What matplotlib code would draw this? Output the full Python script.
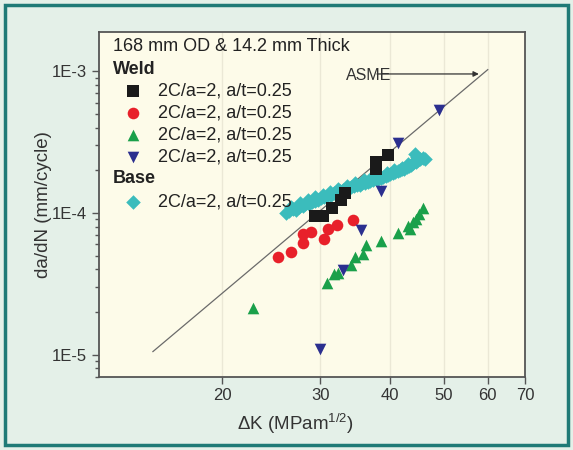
import math
import matplotlib
matplotlib.use("Agg")
import matplotlib.pyplot as plt
from matplotlib.patches import Rectangle
from matplotlib.ticker import FixedLocator, FuncFormatter, NullFormatter, NullLocator

plt.rcParams['font.family'] = ['Liberation Sans', 'DejaVu Sans']
plt.rcParams['mathtext.fontset'] = 'custom'
plt.rcParams['mathtext.rm'] = 'Liberation Sans'

# Weld specimens, dK in MPa m^1/2, da/dN in mm/cycle
weld1_dk = [29.4, 30.3, 31.5, 32.7, 33.2, 37.8, 37.8, 39.7]
weld1_rate = [9.6e-5, 9.6e-5, 1.08e-4, 1.23e-4, 1.38e-4, 2.06e-4, 2.29e-4, 2.58e-4]

weld2_dk = [25.2, 26.6, 27.9, 27.9, 28.9, 30.5, 31.0, 32.2, 34.3]
weld2_rate = [4.9e-5, 5.3e-5, 6.1e-5, 7.1e-5, 7.3e-5, 6.6e-5, 7.7e-5, 8.2e-5, 8.9e-5]

weld3_dk = [22.7, 30.9, 31.8, 32.3, 34.1, 34.6, 35.8, 36.3, 38.6, 41.4,
            43.1, 43.4, 44.0, 44.6, 45.2, 45.8]
weld3_rate = [2.13e-5, 3.22e-5, 3.72e-5, 3.79e-5, 4.26e-5, 4.89e-5, 5.16e-5, 5.9e-5,
              6.3e-5, 7.26e-5, 8.09e-5, 7.74e-5, 8.64e-5, 9.12e-5, 9.9e-5, 1.08e-4]

weld4_dk = [29.9, 32.9, 35.5, 38.6, 41.4, 49.0]
weld4_rate = [1.1e-5, 3.93e-5, 7.54e-5, 1.44e-4, 3.14e-4, 5.3e-4]

base_dk = [26.0, 26.4, 26.8, 27.1, 27.5, 27.9, 28.2, 28.6, 29.0, 29.3,
           29.7, 30.1, 30.5, 30.9, 31.3, 31.7, 32.1, 32.5, 32.9, 33.3,
           33.7, 34.1, 34.5, 34.9, 35.3, 35.7, 36.1, 36.5, 36.9, 37.3,
           37.7, 38.1, 38.5, 38.9, 39.3, 39.7, 40.1, 40.5, 40.9, 41.3,
           41.7, 42.1, 42.5, 42.9, 43.3, 43.7, 44.1, 44.4, 44.6, 45.0,
           45.4, 45.8, 46.2,
           26.6, 27.6, 28.5, 29.4, 30.3, 31.2, 32.3, 33.5, 34.7, 35.9,
           37.0, 38.3, 39.5, 40.7, 42.0, 43.2, 44.8]
base_rate = [1.00e-4, 1.03e-4, 1.06e-4, 1.05e-4, 1.10e-4, 1.12e-4, 1.15e-4, 1.16e-4, 1.20e-4, 1.22e-4,
             1.24e-4, 1.27e-4, 1.30e-4, 1.32e-4, 1.35e-4, 1.38e-4, 1.40e-4, 1.44e-4, 1.46e-4, 1.48e-4,
             1.50e-4, 1.52e-4, 1.55e-4, 1.57e-4, 1.59e-4, 1.62e-4, 1.63e-4, 1.66e-4, 1.68e-4, 1.70e-4,
             1.73e-4, 1.75e-4, 1.78e-4, 1.80e-4, 1.83e-4, 1.86e-4, 1.88e-4, 1.91e-4, 1.94e-4, 1.97e-4,
             2.00e-4, 2.03e-4, 2.06e-4, 2.10e-4, 2.14e-4, 2.17e-4, 2.25e-4, 2.62e-4, 2.30e-4, 2.35e-4,
             2.40e-4, 2.45e-4, 2.42e-4,
             1.10e-4, 1.17e-4, 1.24e-4, 1.29e-4, 1.35e-4, 1.41e-4, 1.49e-4, 1.56e-4, 1.62e-4, 1.70e-4,
             1.77e-4, 1.84e-4, 1.93e-4, 2.01e-4, 2.09e-4, 2.21e-4, 2.47e-4]

# ASME reference curve end points
asme_dk = [15.0, 60.0]
asme_rate = [1.05e-5, 1.03e-3]

series_label = "2C/a=2, a/t=0.25"
x_ticks = [20, 30, 40, 50, 60, 70]
y_ticks = [1e-5, 1e-4, 1e-3]

fig = plt.figure(figsize=(5.73, 4.5), dpi=100)
fig.patch.set_facecolor('#e4f0e8')
fig.patches.append(Rectangle((5 / 573, 5 / 450), 563 / 573, 440 / 450, transform=fig.transFigure,
                             fill=False, edgecolor='#1f7a76', linewidth=2.5))

ax = fig.add_axes([0.1728, 0.1633, 0.7434, 0.7656])
ax.set_facecolor('#fdfbe9')
ax.set_xscale('log')
ax.set_yscale('log')
ax.set_xlim(12, 70)
ax.set_ylim(7e-6, 1.9e-3)

for x in x_ticks[:-1]:
    ax.axvline(x, color='#ebe8d6', linewidth=1, zorder=0)

ax.plot(asme_dk, asme_rate, color='#6a6a6a', linewidth=0.9, zorder=1)
ax.annotate('', xy=(58.5, 9.6e-4), xytext=(37.5, 9.6e-4),
            arrowprops=dict(arrowstyle='-|>', color='#333333', linewidth=0.9, mutation_scale=8))
ax.text(33.3, 9.4e-4, 'ASME', fontsize=11.5, color='#333333', va='center', ha='left')

ms = 70
ms_d = 55
ax.scatter(base_dk, base_rate, marker='D', s=ms_d, color='#3bbcbc', zorder=2, linewidths=0)
ax.scatter(weld1_dk, weld1_rate, marker='s', s=ms, color='#1a1a1a', zorder=3, linewidths=0)
ax.scatter(weld2_dk, weld2_rate, marker='o', s=ms, color='#e8202a', zorder=3, linewidths=0)
ax.scatter(weld3_dk, weld3_rate, marker='^', s=ms, color='#1aa04a', zorder=3, linewidths=0)
ax.scatter(weld4_dk, weld4_rate, marker='v', s=ms, color='#2b2f8f', zorder=3, linewidths=0)

# key block in the upper left corner
fs = 13
ax.text(0.032, 0.957, '168 mm OD & 14.2 mm Thick', transform=ax.transAxes,
        fontsize=fs, color='#222222', va='center')
ax.text(0.032, 0.892, 'Weld', transform=ax.transAxes, fontsize=fs,
        fontweight='bold', color='#222222', va='center')
ax.text(0.032, 0.5747, 'Base', transform=ax.transAxes, fontsize=fs,
        fontweight='bold', color='#222222', va='center')
key = [('s', '#1a1a1a', 0.8296), ('o', '#e8202a', 0.7657), ('^', '#1aa04a', 0.701),
       ('v', '#2b2f8f', 0.638), ('D', '#3bbcbc', 0.5074)]
for m, c, yy in key:
    ax.scatter([0.0805], [yy], marker=m, s=ms if m != 'D' else ms_d, color=c,
               transform=ax.transAxes, linewidths=0, zorder=4)
    ax.text(0.138, yy, series_label, transform=ax.transAxes, fontsize=fs,
            color='#222222', va='center')

ax.xaxis.set_major_locator(FixedLocator(x_ticks))
ax.xaxis.set_major_formatter(FuncFormatter(lambda v, p: '%d' % v))
ax.xaxis.set_minor_locator(NullLocator())
ax.yaxis.set_major_locator(FixedLocator(y_ticks))
ax.yaxis.set_major_formatter(FuncFormatter(lambda v, p: '1E%d' % round(math.log10(v))))
ax.yaxis.set_minor_formatter(NullFormatter())

ax.tick_params(axis='both', which='major', direction='out', length=5, width=1,
               color='#555555', labelsize=12, labelcolor='#333333')
ax.tick_params(axis='y', which='minor', direction='out', length=3, width=1, color='#555555')
for s in ax.spines.values():
    s.set_color('#555555')
    s.set_linewidth(1.3)

ax.set_xlabel(r'$\Delta$K (MPam$^{1/2}$)', fontsize=13.5, color='#333333')
ax.set_ylabel('da/dN (mm/cycle)', fontsize=13.5, color='#333333')
ax.xaxis.set_label_coords(0.461, -0.1)
ax.yaxis.set_label_coords(-0.11, 0.5)

fig.savefig('out.png', dpi=100, facecolor=fig.get_facecolor())
